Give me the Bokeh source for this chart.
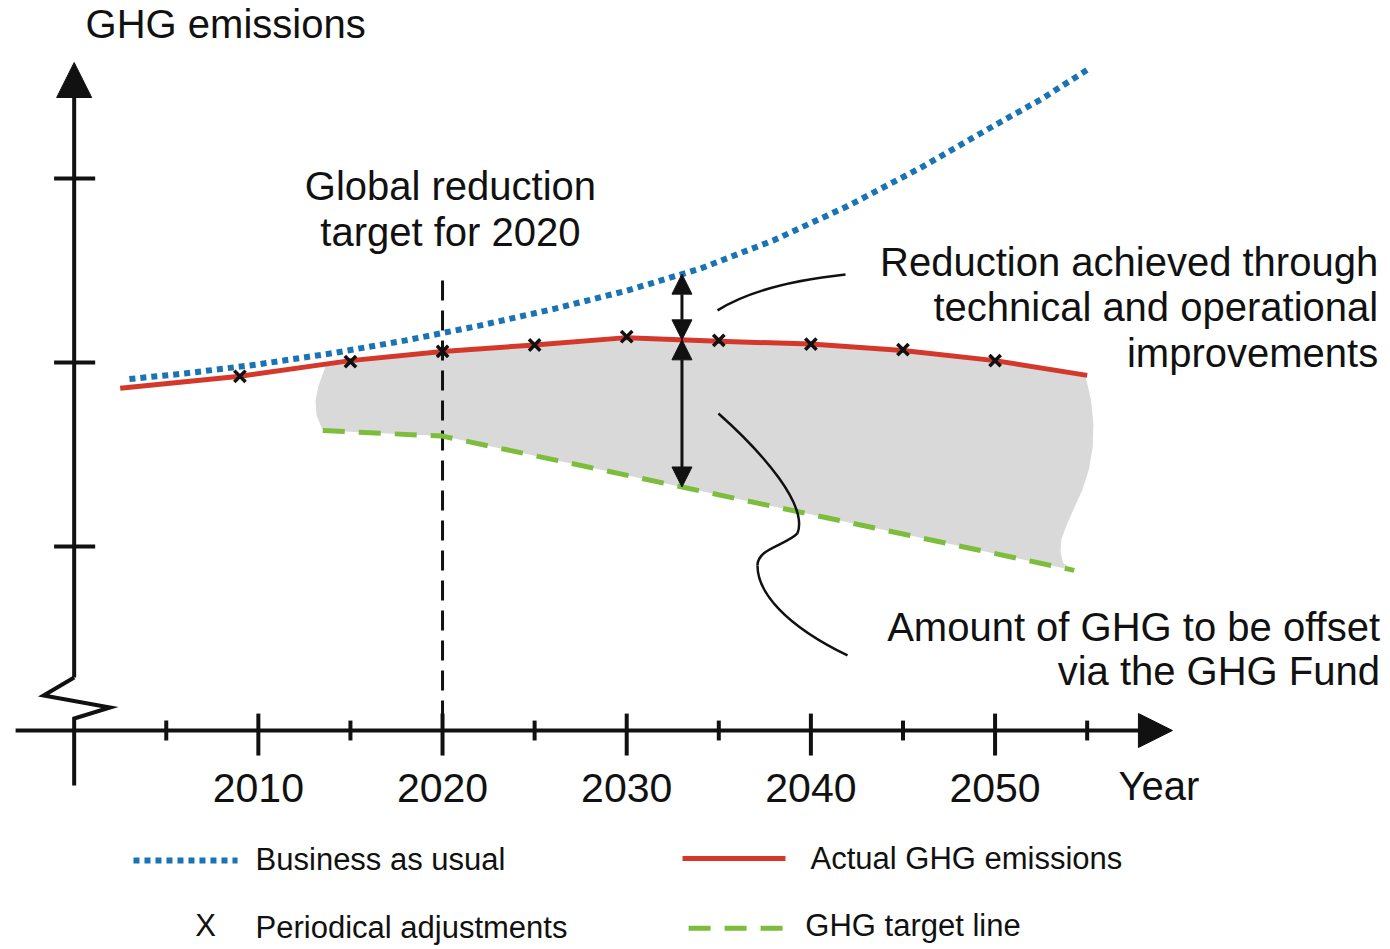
import numpy as np
from bokeh.plotting import figure
from bokeh.models import Range1d, Arrow, NormalHead
from bokeh.core.properties import value
from bokeh.embed import file_html
from bokeh.resources import INLINE

# ---------------- data (years, emission level in arbitrary units) ----------------
bau_years = [2003, 2006, 2010, 2014, 2018, 2022, 2026, 2030, 2034, 2038, 2042, 2046, 2050, 2052.5, 2055]
bau_values = [1.91, 1.94, 1.99, 2.05, 2.12, 2.20, 2.29, 2.39, 2.51, 2.665, 2.85, 3.06, 3.29, 3.43, 3.59]

actual_years = [2002.5, 2009, 2015, 2020, 2025, 2030, 2035, 2040, 2045, 2050, 2055]
actual_values = [1.86, 1.925, 2.01, 2.06, 2.095, 2.135, 2.115, 2.10, 2.065, 2.01, 1.93]

adj_years = [2009, 2015, 2020, 2025, 2030, 2035, 2040, 2045, 2050]
adj_values = [1.925, 2.005, 2.06, 2.095, 2.14, 2.12, 2.10, 2.07, 2.01]

target_years = [2013.5, 2020, 2054.3]
target_values = [1.63, 1.60, 0.87]

target_year = 2020
arrow_year = 2033

x_major_ticks = [2010, 2020, 2030, 2040, 2050]
x_major_labels = ["2010", "2020", "2030", "2040", "2050"]
x_minor_ticks = [2005, 2015, 2025, 2035, 2045, 2055]
y_ticks = [1, 2, 3]

# ---------------- figure ----------------
FONT = value("Liberation Sans")
INK = "#111111"
BLUE = "#1a74b4"
RED = "#d4382b"
GREEN = "#7cbd3c"
GRAY = "#d9d9d9"

p = figure(width=1390, height=949, output_backend="svg", toolbar_location=None,
           x_range=Range1d(1996.0, 2071.47), y_range=Range1d(-1.190, 3.967),
           x_axis_location=None, y_axis_location=None, min_border=0)
p.grid.visible = False
p.outline_line_color = None
p.background_fill_color = "white"

# ---------------- grey offset area ----------------
area_start, area_end = 2013.7, 2054.9
top_x = [area_start] + [yr for yr in actual_years if area_start < yr < area_end] + [area_end]
top_y = list(np.interp(top_x, actual_years, actual_values))
right_edge_x = [2055.2, 2055.34, 2055.3, 2055.1, 2054.75, 2054.3, 2053.9, 2053.6, 2053.55, 2053.7]
right_edge_y = [1.80, 1.668, 1.54, 1.42, 1.31, 1.21, 1.12, 1.04, 0.97, 0.91]
left_edge_x = [2013.16, 2013.1, 2013.27]
left_edge_y = [1.712, 1.793, 1.875]
patch_x = top_x + right_edge_x + target_years[::-1] + left_edge_x
patch_y = top_y + right_edge_y + target_values[::-1] + left_edge_y
p.patch(patch_x, patch_y, fill_color=GRAY, line_color=None)

# ---------------- axes (hand drawn style) ----------------
p.add_layout(Arrow(end=NormalHead(size=34, fill_color=INK, line_color=INK, line_width=1),
                   x_start=1996.82, y_start=0, x_end=2059.63, y_end=0,
                   line_width=4, line_color=INK))
p.segment(x0=x_major_ticks, y0=[0.092] * len(x_major_ticks), x1=x_major_ticks,
          y1=[-0.136] * len(x_major_ticks), line_width=4, line_color=INK)
p.segment(x0=x_minor_ticks, y0=[0.054] * len(x_minor_ticks), x1=x_minor_ticks,
          y1=[-0.054] * len(x_minor_ticks), line_width=4, line_color=INK)
p.text(x=x_major_ticks, y=[-0.315] * len(x_major_ticks), text=x_major_labels,
       text_font=FONT, text_font_size=value("41px"), text_align="center",
       text_baseline="middle", text_color=INK)

p.add_layout(Arrow(end=NormalHead(size=35, fill_color=INK, line_color=INK, line_width=1),
                   x_start=2000, y_start=0.288, x_end=2000, y_end=3.63,
                   line_width=4, line_color=INK))
p.line([2000, 1998.34, 2001.95, 2000, 2000], [0.288, 0.190, 0.125, 0.065, -0.299],
       line_width=4, line_color=INK, line_join="miter")
p.segment(x0=[1998.91] * len(y_ticks), y0=y_ticks, x1=[2001.14] * len(y_ticks), y1=y_ticks,
          line_width=4, line_color=INK)

# ---------------- 2020 target marker line ----------------
p.line([target_year, target_year], [2.446, 0.0], line_width=3, line_color=INK, line_dash="20 10")

# ---------------- series ----------------
p.line(target_years, target_values, line_width=5, line_color=GREEN, line_dash="22 14")
p.line(actual_years, actual_values, line_width=5, line_color=RED, line_join="round")
p.line(bau_years, bau_values, line_width=6, line_color=BLUE, line_dash="6 5")
p.scatter(adj_years, adj_values, marker="x", size=16, line_width=3.5, line_color=INK)

# ---------------- double arrows ----------------
bau_at = float(np.interp(arrow_year, bau_years, bau_values))
act_at = float(np.interp(arrow_year, actual_years, actual_values))
tgt_at = float(np.interp(arrow_year, target_years, target_values))
for y0, y1 in [(act_at, bau_at), (tgt_at, act_at)]:
    p.add_layout(Arrow(start=NormalHead(size=20, fill_color=INK, line_color=INK, line_width=1),
                       end=NormalHead(size=20, fill_color=INK, line_color=INK, line_width=1),
                       x_start=arrow_year, y_start=y0, x_end=arrow_year, y_end=y1,
                       line_width=3, line_color=INK))

# ---------------- leader curves ----------------
p.quadratic(x0=[2034.93], y0=[2.283], x1=[2041.88], y1=[2.478], cx=[2037.26], cy=[2.429],
            line_width=2.5, line_color=INK)
p.bezier(x0=[2034.98, 2039.27, 2037.10], y0=[1.723, 1.071, 0.897],
         x1=[2039.27, 2037.10, 2041.99], y1=[1.071, 0.897, 0.408],
         cx0=[2037.37, 2038.62, 2037.10], cy0=[1.511, 1.005, 0.750],
         cx1=[2039.87, 2037.10, 2038.62], cy1=[1.223, 0.989, 0.571],
         line_width=2.5, line_color=INK)

# ---------------- texts ----------------
def label(x, y, txt, size, align="left"):
    p.text(x=[x], y=[y], text=[txt], text_font=FONT, text_font_size=value(size),
           text_align=align, text_baseline="middle", text_color=INK)

label(2000.62, 3.840, "GHG emissions", "40px")
label(2020.43, 2.957, "Global reduction", "40px", "center")
label(2020.43, 2.707, "target for 2020", "40px", "center")
label(2070.8, 2.545, "Reduction achieved through", "40px", "right")
label(2070.8, 2.299, "technical and operational", "40px", "right")
label(2070.8, 2.054, "improvements", "40px", "right")
label(2070.9, 0.565, "Amount of GHG to be offset", "40px", "right")
label(2070.9, 0.326, "via the GHG Fund", "40px", "right")
label(2056.7, -0.304, "Year", "40px")

# ---------------- legend (drawn) ----------------
p.line([2003.22, 2008.87], [-0.707, -0.707], line_width=6, line_color=BLUE, line_dash="6 5")
label(2009.85, -0.701, "Business as usual", "31px")
p.line([2033.03, 2038.62], [-0.696, -0.696], line_width=5, line_color=RED)
label(2039.98, -0.696, "Actual GHG emissions", "31px")
label(2007.13, -1.06, "X", "31px", "center")
label(2009.85, -1.07, "Periodical adjustments", "31px")
p.line([2033.36, 2038.78], [-1.075, -1.075], line_width=5, line_color=GREEN, line_dash="22 14")
label(2039.7, -1.06, "GHG target line", "31px")

open("out.html", "w").write(file_html(p, INLINE))
